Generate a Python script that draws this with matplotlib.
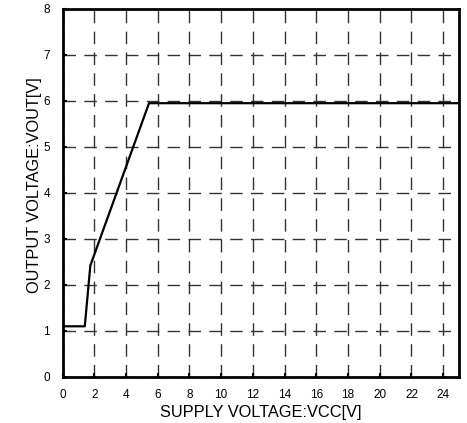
import matplotlib
matplotlib.use("Agg")
import matplotlib.pyplot as plt

vcc = [0, 1.4, 1.75, 5.45, 25]
vout = [1.1, 1.1, 2.42, 5.95, 5.95]
xticks = list(range(0, 25, 2))
yticks = list(range(0, 9))

plt.rcParams['font.family'] = ['Liberation Sans', 'DejaVu Sans']
fig = plt.figure(figsize=(4.67, 4.23), dpi=100)
ax = fig.add_axes([0.134, 0.109, 0.849, 0.870])
ax.plot(vcc, vout, color='black', lw=1.6, zorder=3)
ax.set_xlim(0, 25)
ax.set_ylim(0, 8)
ax.set_xticks(xticks)
ax.set_yticks(yticks)
ax.grid(True, color='#333333', linestyle=(0, (9, 6)), lw=1.0)
for s in ax.spines.values():
    s.set_linewidth(2)
ax.tick_params(direction='in', length=3, width=1.5, labelsize=8.5, pad=9)
ax.set_xlabel('SUPPLY VOLTAGE:VCC[V]', fontsize=11.8)
ax.set_ylabel('OUTPUT VOLTAGE:VOUT[V]', fontsize=11.8)
ax.xaxis.set_label_coords(0.5, -0.077)
ax.yaxis.set_label_coords(-0.071, 0.522)
ax.yaxis.label.set_va('center')
fig.savefig('out.png', dpi=100)
